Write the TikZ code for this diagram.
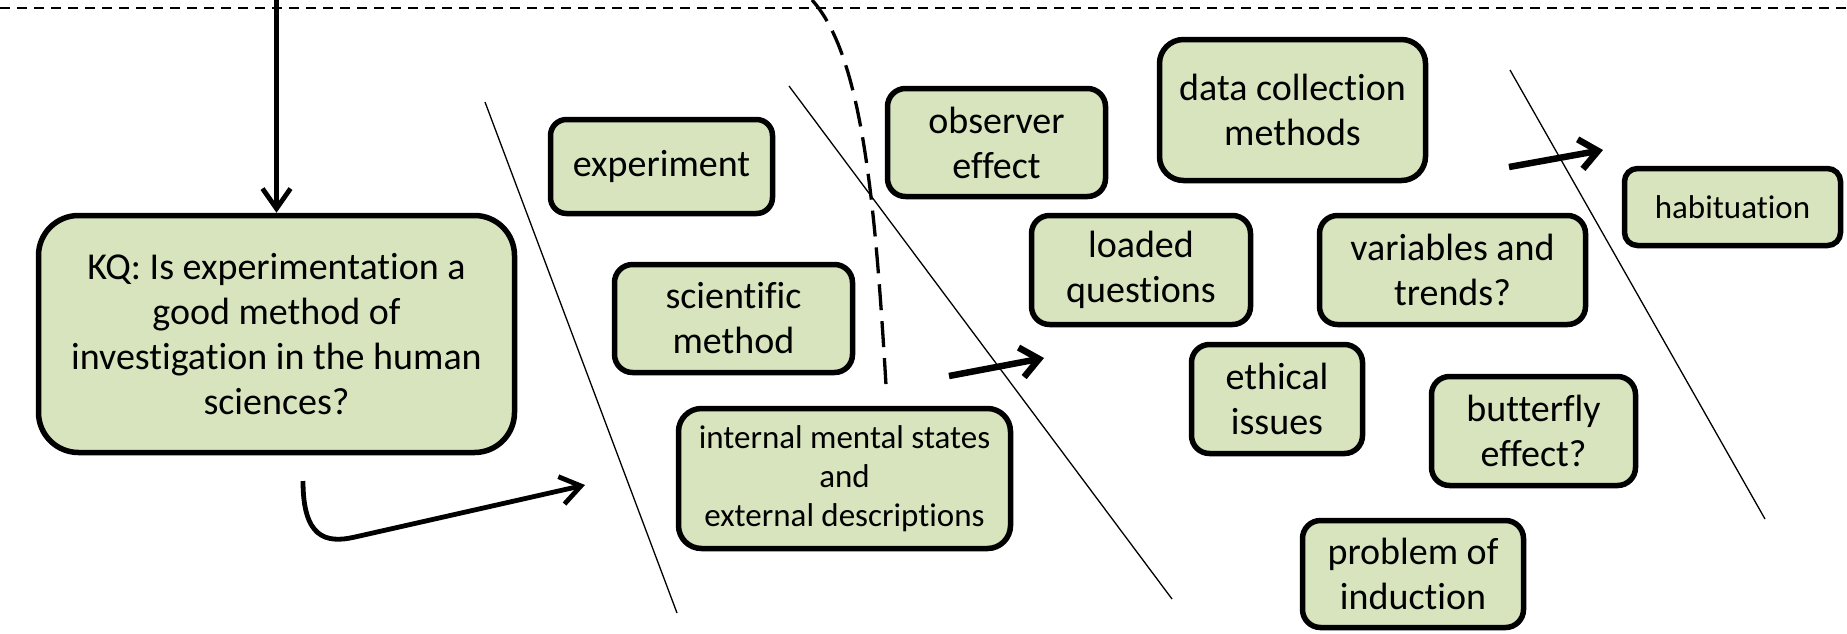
\documentclass[tikz,border=0pt]{standalone}
\usepackage{fontspec}
\setmainfont[RawFeature={-liga}]{Carlito}
\usetikzlibrary{arrows.meta}
\definecolor{boxgreen}{HTML}{D7E4BD}
\begin{document}
\begin{tikzpicture}[x=1pt,y=-1pt,
  box/.style={draw=black, fill=boxgreen, line width=5.5pt, align=center, inner sep=0pt, font=\fontsize{38}{45}\selectfont},
  smallbox/.style={box, font=\fontsize{33}{39}\selectfont},
  thinline/.style={line width=1.3pt},
  arr/.style={line width=4.8pt, -{Straight Barb[length=20pt,width=28pt]}},
  thickarr/.style={line width=6.5pt, -{Straight Barb[length=18pt,width=30pt]}},
]
\useasboundingbox (0,0) rectangle (1847,633);

% top dashed line
\coordinate (dl) at (0,8);
\coordinate (dr) at (1847,8);
\draw[line width=1.3pt, dash pattern=on 10pt off 7pt] (dl) -- (dr);

% separator lines
\coordinate (s1a) at (485,102); \coordinate (s1b) at (677,613);
\coordinate (s2a) at (789,86);  \coordinate (s2b) at (1172,599);
\coordinate (s3a) at (1510,70); \coordinate (s3b) at (1765,519);
\draw[thinline] (s1a) -- (s1b);
\draw[thinline] (s2a) -- (s2b);
\draw[thinline] (s3a) -- (s3b);

% dashed curve
\coordinate (dc1) at (812,0);
\coordinate (dc2) at (886,385);
\draw[line width=3.3pt, dash pattern=on 26pt off 11pt] (dc1) .. controls (862,55) and (875,200) .. (dc2);

% boxes
\node[box, minimum width=476pt, minimum height=237pt, rounded corners=40pt] (kq) at (276.5,334)
  {KQ: Is experimentation a\\good method of\\investigation in the human\\sciences?};
\node[box, minimum width=222pt, minimum height=94pt, rounded corners=16pt] (exp) at (661.5,166.5) {experiment};
\node[box, minimum width=238pt, minimum height=108pt, rounded corners=18pt] (sci) at (733.5,318.5) {scientific\\method};
\node[smallbox, minimum width=332pt, minimum height=140pt, rounded corners=23pt] (int) at (844.5,478.5)
  {internal mental states\\and\\external descriptions};
\node[box, minimum width=218pt, minimum height=108pt, rounded corners=18pt] (obs) at (996.5,142.5) {observer\\effect};
\node[box, minimum width=266pt, minimum height=141pt, rounded corners=24pt] (data) at (1292.5,110) {data collection\\methods};
\node[box, minimum width=219pt, minimum height=109pt, rounded corners=18pt] (load) at (1141,270) {loaded\\questions};
\node[box, minimum width=266pt, minimum height=109pt, rounded corners=18pt] (var) at (1452.5,270) {variables and\\trends?};
\node[box, minimum width=171pt, minimum height=109pt, rounded corners=18pt] (eth) at (1277,399) {ethical\\issues};
\node[box, minimum width=204pt, minimum height=109pt, rounded corners=18pt] (but) at (1533.5,431) {butterfly\\effect?};
\node[box, minimum width=221pt, minimum height=107pt, rounded corners=18pt] (prob) at (1413,574) {problem of\\induction};
\node[smallbox, minimum width=216pt, minimum height=77pt, rounded corners=13pt] (hab) at (1732.5,207) {habituation};

% arrows
\coordinate (vtop) at (276.5,0);
\draw[arr] (vtop) -- (kq.north);

\coordinate (ca) at (303,481);
\coordinate (cb) at (585,485);
\draw[arr] (ca) .. controls (303,537) and (325,544) .. (355,537) -- (cb);

\coordinate (ma) at (949,376);
\coordinate (mb) at (1044,358);
\draw[thickarr] (ma) -- (mb);

\coordinate (ha) at (1509,167);
\coordinate (hb) at (1603,150);
\draw[thickarr] (ha) -- (hb);
\end{tikzpicture}
\end{document}
